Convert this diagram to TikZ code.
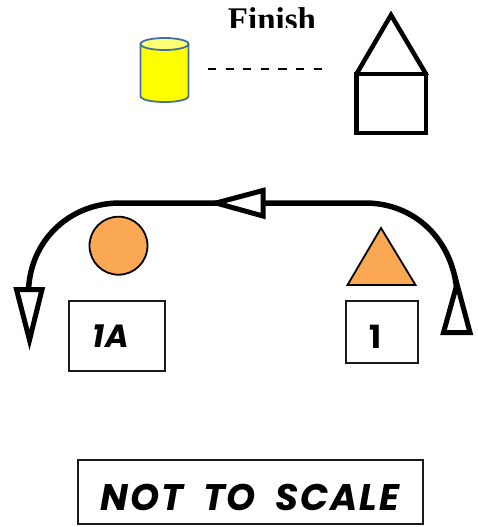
\documentclass[tikz,border=0pt]{standalone}
\usepackage{fontspec}
\setmainfont{Liberation Serif}
\newfontfamily\comicfont[LetterSpace=5,WordSpace=1.9]{Poppins}
\definecolor{shapeorange}{HTML}{FBA855}
\definecolor{canyellow}{HTML}{FFFF00}
\definecolor{canlid}{HTML}{FFFF73}
\definecolor{canedge}{HTML}{41719C}
\definecolor{boxedge}{HTML}{1A1A1A}
\tikzset{
  x=1pt,y=-1pt,
  thickline/.style={line width=5.5pt,black},
  headtri/.style={line width=5pt,black,fill=white,miter limit=10,line join=miter},
  housestroke/.style={line width=4.5pt,black,line join=miter},
  flatshape/.style={draw=black,line width=1.8pt,fill=shapeorange},
  labelbox/.style={draw=boxedge,line width=1.7pt,fill=white,inner sep=0pt},
}
\begin{document}
\begin{tikzpicture}
\useasboundingbox (0,0) rectangle (477,527);
% Finish (clipped at its foot, as printed)
\begin{scope}
  \clip (200,0) rectangle (340,28);
  \node[font=\bfseries\fontsize{33}{33}\selectfont,anchor=base] (finish) at (272,31) {Finish};
\end{scope}
% Cylinder
\fill[canyellow] (140.5,44) -- (140.5,96) .. controls (140.5,104) and (188.5,104) .. (188.5,96) -- (188.5,44) -- cycle;
\draw[canedge,line width=1.8pt,fill=canlid] (164.5,44) ellipse[x radius=24,y radius=6];
\draw[canedge,line width=1.8pt] (140.5,44) -- (140.5,96) .. controls (140.5,104) and (188.5,104) .. (188.5,96) -- (188.5,44);
% Dashed line
\coordinate (dashA) at (208,69);
\coordinate (dashB) at (323,69);
\draw[black,line width=2.4pt,dash pattern=on 8.2pt off 9.4pt] (dashA) -- (dashB);
% House
\draw[housestroke] (356.5,74) rectangle (426,133);
\draw[housestroke] (356.5,74) -- (391,15) -- (426,74);
\draw[black,line width=1.5pt] (353.5,74.5) -- (428.5,74.5);
% Route
\coordinate (rightEnd) at (457,292);
\coordinate (topRight) at (365,203);
\coordinate (topLeft) at (120,203);
\coordinate (leftEnd) at (28.5,291);
\draw[thickline] (rightEnd) .. controls (453,240) and (415,203) .. (topRight) -- (topLeft) .. controls (70,203) and (30,240) .. (leftEnd);
\draw[headtri] (443.5,332.5) -- (470,332.5) -- (457,284) -- cycle;
\draw[headtri] (263,190.5) -- (263,216) -- (216,203) -- cycle;
\draw[headtri] (16.5,289.5) -- (42,289.5) -- (29.5,340) -- cycle;
% Circle and triangle
\node[circle,flatshape,minimum size=58pt,inner sep=0pt] (disc) at (118.5,245.7) {};
\draw[flatshape,line join=miter] (381,228) -- (347.5,285) -- (415.5,285) -- cycle;
% Boxes
\node[labelbox,minimum width=96pt,minimum height=69.5pt] (boxA) at (116.7,336) {};
\node[font=\comicfont\bfseries\itshape\fontsize{32}{32}\selectfont] (labelA) at (111,336.5) {1A};
\node[labelbox,minimum width=72pt,minimum height=62pt] (boxB) at (382,332) {};
\node[font=\comicfont\bfseries\fontsize{32}{32}\selectfont] (labelB) at (376,336.5) {1};
\node[labelbox,minimum width=345pt,minimum height=64pt] (note) at (250.5,492) {};
\node[font=\comicfont\bfseries\itshape\fontsize{37}{37}\selectfont] (noteText) at (250,497) {NOT TO SCALE};
\end{tikzpicture}
\end{document}
